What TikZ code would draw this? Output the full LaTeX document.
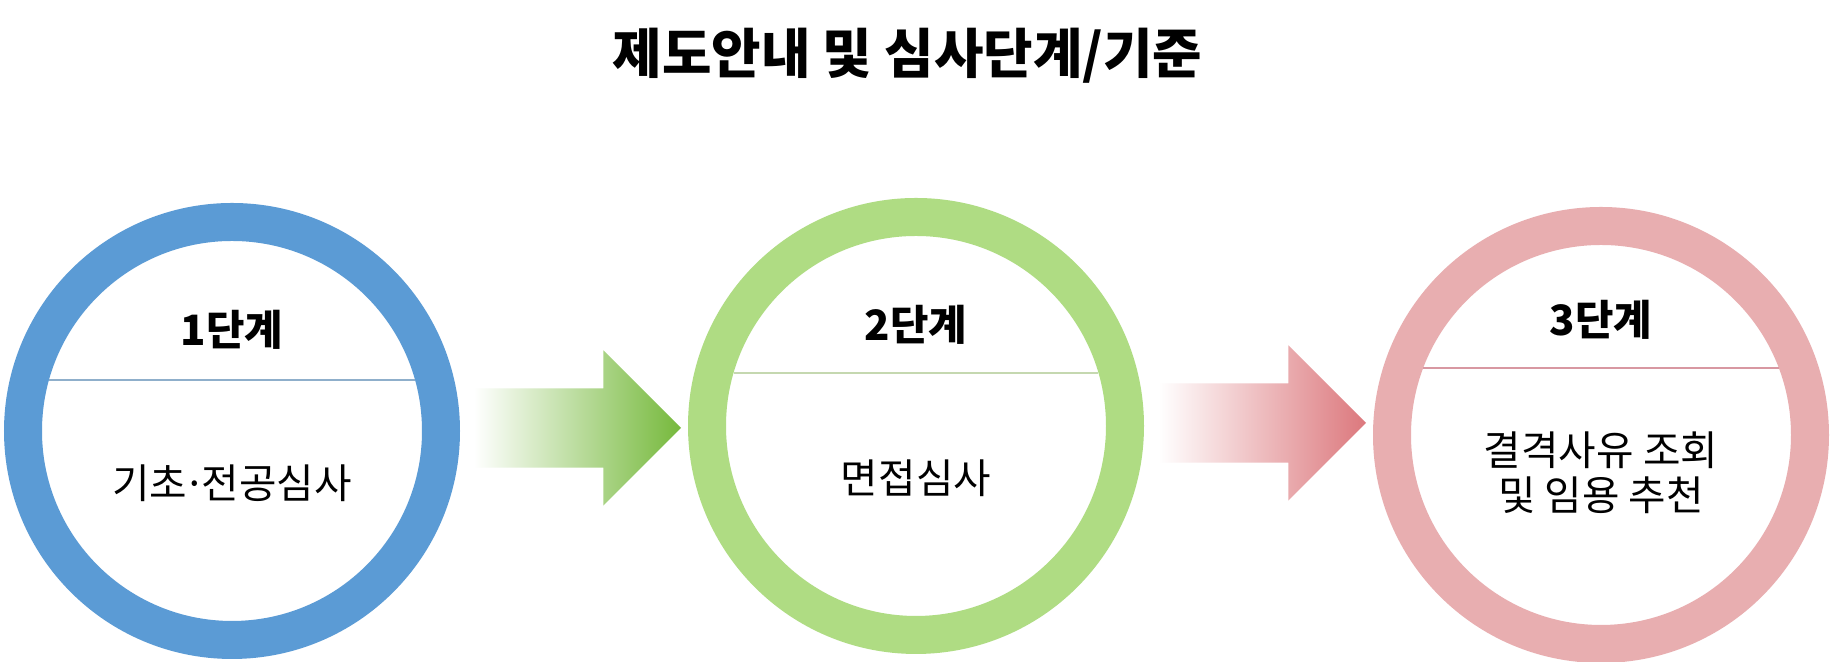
\documentclass[tikz,border=0pt]{standalone}
\usepackage{fontspec}
\newfontfamily\krfont{Noto Sans CJK KR}
\usetikzlibrary{shapes.arrows}
\definecolor{ringblue}{HTML}{5B9BD5}
\definecolor{ringgreen}{HTML}{AFDC83}
\definecolor{ringpink}{HTML}{E8AEB0}
\definecolor{lineblue}{HTML}{8FAFCB}
\definecolor{linegreen}{HTML}{C5D8B0}
\definecolor{linepink}{HTML}{D898A2}
\definecolor{arrowgreen}{HTML}{76B93C}
\definecolor{arrowpink}{HTML}{DC787D}

\begin{document}
\begin{tikzpicture}[
    stage/.style={circle, draw=#1, line width=0.38cm, minimum size=4.18cm, inner sep=0pt},
    stagetitle/.style={font=\krfont\bfseries\fontsize{11.9}{13}\selectfont},
    stagetext/.style={font=\krfont\fontsize{11.6}{12.8}\selectfont, align=center},
    divider/.style={draw=#1, line width=0.5pt},
    stagearrow/.style={single arrow, inner xsep=0pt, inner ysep=0.39cm,
      minimum height=2.07cm, single arrow head extend=0.38cm,
      left color=white, right color=#1, anchor=tip}
  ]
  \useasboundingbox[fill=white] (0,0) rectangle (18.32,6.62);
  \node[font=\krfont\bfseries\fontsize{15.3}{18}\selectfont] (title) at (9.075,6.06) {제도안내 및 심사단계/기준};

  \node[stage=ringblue] (c1) at (2.32,2.31) {};
  \node[stage=ringgreen] (c2) at (9.16,2.36) {};
  \node[stage=ringpink] (c3) at (16.01,2.27) {};

  \draw[divider=lineblue] ([shift={(-1.83,0.51)}]c1.center) -- ([shift={(1.83,0.51)}]c1.center);
  \draw[divider=linegreen] ([shift={(-1.82,0.53)}]c2.center) -- ([shift={(1.82,0.53)}]c2.center);
  \draw[divider=linepink] ([shift={(-1.78,0.67)}]c3.center) -- ([shift={(1.78,0.67)}]c3.center);

  \node[stagetitle] (h1) at ([yshift=1.01cm]c1.center) {1단계};
  \node[stagetitle] (h2) at ([yshift=1.01cm]c2.center) {2단계};
  \node[stagetitle] (h3) at ([yshift=1.15cm]c3.center) {3단계};

  \node[stagetext] (t1) at ([yshift=-0.52cm]c1.center) {기초\hspace{-0.1em}·\hspace{-0.1em}전공심사};
  \node[stagetext] (t2) at ([yshift=-0.52cm]c2.center) {면접심사};
  \node[stagetext] (t3) at ([yshift=-0.375cm]c3.center) {결격사유 조회\\및 임용 추천};

  \node[stagearrow=arrowgreen] (a1) at (6.82,2.34) {};
  \node[stagearrow=arrowpink] (a2) at (13.67,2.39) {};
\end{tikzpicture}
\end{document}
